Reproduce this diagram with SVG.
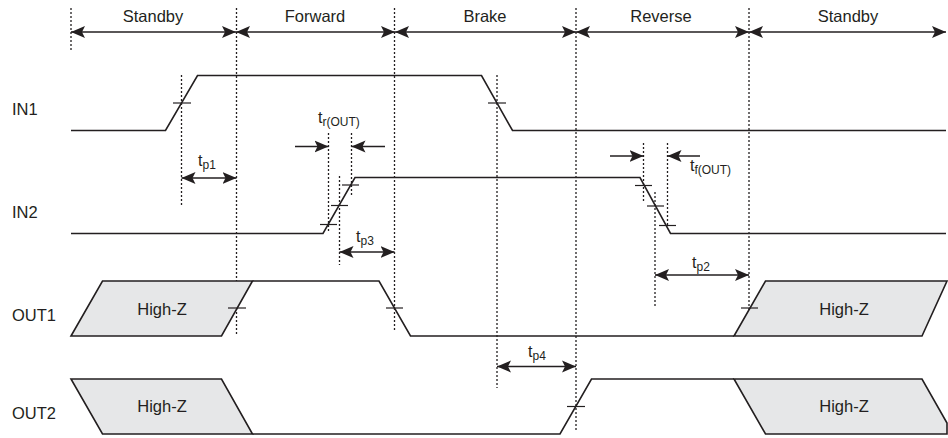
<svg xmlns="http://www.w3.org/2000/svg" width="948" height="438" viewBox="0 0 948 438">
<style>
.sig{fill:none;stroke:#231f20;stroke-width:1.6;stroke-linejoin:miter}
.hz{fill:#e6e7e8;stroke:#231f20;stroke-width:1.6}
.dot{stroke:#231f20;stroke-width:1.3;stroke-dasharray:2,2;fill:none}
.tick{stroke:#231f20;stroke-width:1.2}
.arr{stroke:#231f20;stroke-width:1.6;fill:none;marker-start:url(#ah);marker-end:url(#ah)}
.one{stroke:#231f20;stroke-width:1.6;fill:none;marker-end:url(#ah)}
text{font-family:"Liberation Sans",Arial,sans-serif;fill:#231f20}
.lbl{font-size:16.5px}
.t{font-size:16px}
.sub{font-size:12px}
</style>
<defs>
<marker id="ah" markerUnits="userSpaceOnUse" markerWidth="16" markerHeight="14" refX="14" refY="6" orient="auto-start-reverse" viewBox="0 0 16 12">
<path d="M0,0 L14,6 L0,12 L3,6 z" fill="#231f20"/>
</marker>
</defs>

<g id="header">
<line class="dot" x1="71" y1="8" x2="71" y2="50"/>
<line class="arr" x1="71" y1="32" x2="236" y2="32"/>
<line class="arr" x1="236" y1="32" x2="395" y2="32"/>
<line class="arr" x1="395" y1="32" x2="576" y2="32"/>
<line class="arr" x1="576" y1="32" x2="749" y2="32"/>
<line class="arr" x1="749" y1="32" x2="946" y2="32"/>
<text class="lbl" x="153" y="22" text-anchor="middle">Standby</text>
<text class="lbl" x="315" y="22" text-anchor="middle">Forward</text>
<text class="lbl" x="485" y="22" text-anchor="middle">Brake</text>
<text class="lbl" x="661" y="22" text-anchor="middle">Reverse</text>
<text class="lbl" x="848" y="22" text-anchor="middle">Standby</text>
</g>

<g id="guides">
<line class="dot" x1="236.5" y1="8" x2="236.5" y2="335"/>
<line class="dot" x1="394.5" y1="8" x2="394.5" y2="330"/>
<line class="dot" x1="576" y1="8" x2="576" y2="432"/>
<line class="dot" x1="749" y1="8" x2="749" y2="325"/>
<line class="dot" x1="181.5" y1="75" x2="181.5" y2="207"/>
<line class="dot" x1="497" y1="75" x2="497" y2="388"/>
<line class="dot" x1="328.5" y1="133" x2="328.5" y2="232"/>
<line class="dot" x1="351.5" y1="133" x2="351.5" y2="197"/>
<line class="dot" x1="339.5" y1="176" x2="339.5" y2="265"/>
<line class="dot" x1="643.5" y1="143" x2="643.5" y2="202"/>
<line class="dot" x1="667.5" y1="143" x2="667.5" y2="227"/>
<line class="dot" x1="655" y1="192" x2="655" y2="308"/>
</g>

<g id="IN1">
<text class="lbl" x="12" y="115">IN1</text>
<polyline class="sig" points="71,130.5 165.5,130.5 197.5,75.5 481.5,75.5 512.5,130.5 946,130.5"/>
<line class="tick" x1="173" y1="103" x2="191" y2="103"/>
<line class="tick" x1="488" y1="103" x2="506" y2="103"/>
</g>

<g id="IN2">
<text class="lbl" x="12" y="218">IN2</text>
<polyline class="sig" points="71,233.5 323,233.5 355,177.5 640,177.5 670.5,233.5 946,233.5"/>
<line class="tick" x1="320" y1="224.5" x2="337" y2="224.5"/>
<line class="tick" x1="331" y1="205.5" x2="348" y2="205.5"/>
<line class="tick" x1="342" y1="185" x2="359" y2="185"/>
<line class="tick" x1="635" y1="185.5" x2="652" y2="185.5"/>
<line class="tick" x1="647" y1="206" x2="664" y2="206"/>
<line class="tick" x1="659" y1="225.5" x2="676" y2="225.5"/>
</g>

<g id="OUT1">
<text class="lbl" x="12" y="321">OUT1</text>
<polygon class="hz" points="71,336 102.5,281 252.5,281 221.5,336"/>
<text class="lbl" x="162" y="315" text-anchor="middle">High-Z</text>
<polyline class="sig" points="252.5,281 379,281 410.5,336 734,336"/>
<polygon class="hz" points="734,336 765.5,281 947,281 922,336"/>
<text class="lbl" x="844" y="315" text-anchor="middle">High-Z</text>
<line class="tick" x1="228" y1="308" x2="246" y2="308"/>
<line class="tick" x1="386" y1="308" x2="403" y2="308"/>
<line class="tick" x1="741" y1="308" x2="758" y2="308"/>
</g>

<g id="OUT2">
<text class="lbl" x="12" y="419">OUT2</text>
<polygon class="hz" points="71,379 221.5,379 252.5,434 102.5,434"/>
<text class="lbl" x="162" y="412" text-anchor="middle">High-Z</text>
<polyline class="sig" points="252.5,434 560,434 591.5,379 734,379"/>
<polygon class="hz" points="734,379 922,379 947,423 947,434 765.5,434"/>
<text class="lbl" x="844" y="412" text-anchor="middle">High-Z</text>
<line class="tick" x1="567" y1="406.5" x2="585" y2="406.5"/>
</g>

<g id="timings">
<line class="arr" x1="181.5" y1="178" x2="236.5" y2="178"/>
<text class="t" x="198" y="166">t<tspan class="sub" dy="3">p1</tspan></text>
<line class="arr" x1="339.5" y1="252" x2="394.5" y2="252"/>
<text class="t" x="356" y="242">t<tspan class="sub" dy="3">p3</tspan></text>
<line class="arr" x1="655" y1="275" x2="749" y2="275"/>
<text class="t" x="692" y="268">t<tspan class="sub" dy="3">p2</tspan></text>
<line class="arr" x1="497" y1="366.5" x2="576" y2="366.5"/>
<text class="t" x="528" y="357">t<tspan class="sub" dy="3">p4</tspan></text>
<line class="one" x1="295" y1="146.5" x2="328.5" y2="146.5"/>
<line class="one" x1="385" y1="146.5" x2="351.5" y2="146.5"/>
<text class="t" x="318" y="123">t<tspan class="sub" dy="3">r(OUT)</tspan></text>
<line class="one" x1="610" y1="156" x2="643.5" y2="156"/>
<line class="one" x1="700" y1="156" x2="667.5" y2="156"/>
<text class="t" x="690" y="171">t<tspan class="sub" dy="3">f(OUT)</tspan></text>
</g>
</svg>
